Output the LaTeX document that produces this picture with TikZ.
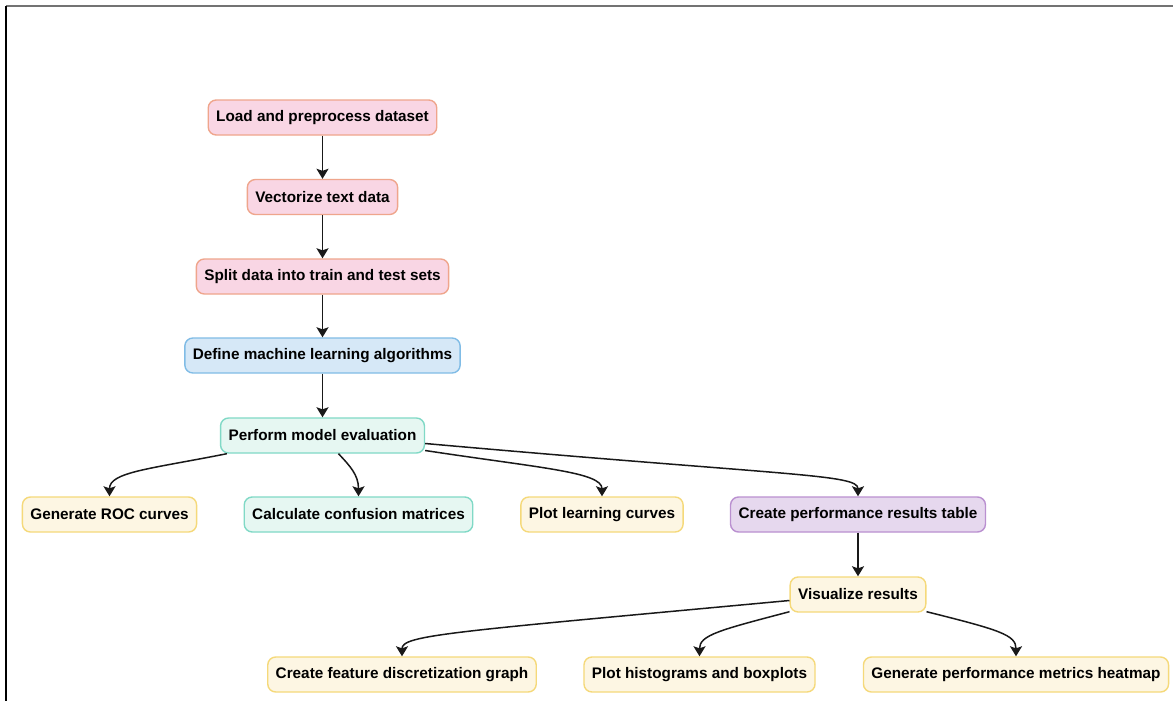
\documentclass[tikz,border=0pt]{standalone}
\usepackage{fontspec}
\setmainfont{Liberation Sans}
\usetikzlibrary{arrows.meta,calc}
\definecolor{pinkF}{HTML}{F9D6E4}
\definecolor{pinkD}{HTML}{EFA58C}
\definecolor{blueF}{HTML}{D6E8F7}
\definecolor{blueD}{HTML}{80BCE6}
\definecolor{mintF}{HTML}{E6F7F2}
\definecolor{mintD}{HTML}{80D9C6}
\definecolor{yelF}{HTML}{FDF6E3}
\definecolor{yelD}{HTML}{F5D97A}
\definecolor{purF}{HTML}{E6D8EE}
\definecolor{purD}{HTML}{BA90D0}
\tikzset{
  box/.style={rounded corners=8pt, line width=1.4pt, minimum height=35pt,
    inner xsep=8pt, inner ysep=0pt, font=\fontsize{15.3}{17}\selectfont\bfseries,
    text=black},
  pinkbox/.style={box, fill=pinkF, draw=pinkD},
  bluebox/.style={box, fill=blueF, draw=blueD},
  mintbox/.style={box, fill=mintF, draw=mintD},
  yelbox/.style={box, fill=yelF, draw=yelD},
  purbox/.style={box, fill=purF, draw=purD},
  arr/.style={line width=1.5pt, draw=black!90, -{Stealth[width=12pt,length=10pt,inset=2pt]}}
}
\begin{document}
\begin{tikzpicture}[x=1pt,y=-1pt]
\useasboundingbox (0,0) rectangle (1173,701);
\fill[white] (0,0) rectangle (1173,701);
\draw[line width=1.6pt, draw=black!55] (6,6) -- (1173,6);
\draw[line width=1.4pt, draw=black] (6,6) -- (6,701);

\node[pinkbox] (load) at (322.5,117.5) {Load and preprocess dataset};
\node[pinkbox] (vec) at (322.5,197) {Vectorize text data};
\node[pinkbox] (split) at (322.5,276.5) {Split data into train and test sets};
\node[bluebox] (def) at (322.5,355.5) {Define machine learning algorithms};
\node[mintbox] (perf) at (322.5,435.5) {Perform model evaluation};

\node[yelbox] (roc) at (109.5,514.5) {Generate ROC curves};
\node[mintbox] (conf) at (358.5,514.5) {Calculate confusion matrices};
\node[yelbox] (learn) at (602,514.5) {Plot learning curves};
\node[purbox] (table) at (858,514.5) {Create performance results table};

\node[yelbox] (vis) at (858,594.5) {Visualize results};

\node[yelbox] (feat) at (402,674.5) {Create feature discretization graph};
\node[yelbox] (hist) at (699.5,674.5) {Plot histograms and boxplots};
\node[yelbox] (heat) at (1016,674.5) {Generate performance metrics heatmap};

\draw[arr] (load.south) -- (vec.north);
\draw[arr] (vec.south) -- (split.north);
\draw[arr] (split.south) -- (def.north);
\draw[arr] (def.south) -- (perf.north);
\draw[arr] (table.south) -- (vis.north);

\draw[arr] ($(perf.south west)+(7,0)$) .. controls (150,469) and (109.5,472) .. (roc.north);
\draw[arr] ($(perf.south)+(16,0)$) .. controls (350,466) and (358.5,475) .. (conf.north);
\draw[arr] ($(perf.east)+(0,15)$) .. controls (540,468) and (602,472) .. (learn.north);
\draw[arr] ($(perf.east)+(0,8)$) .. controls (790,476) and (858,474) .. (table.north);

\draw[arr] ($(vis.west)+(0,6)$) .. controls (450,632) and (402,635) .. (feat.north);
\draw[arr] ($(vis.south west)+(0,-1)$) .. controls (720,630) and (699.5,635) .. (hist.north);
\draw[arr] ($(vis.south east)+(0,-1)$) .. controls (1000,630) and (1016,635) .. (heat.north);
\end{tikzpicture}
\end{document}
